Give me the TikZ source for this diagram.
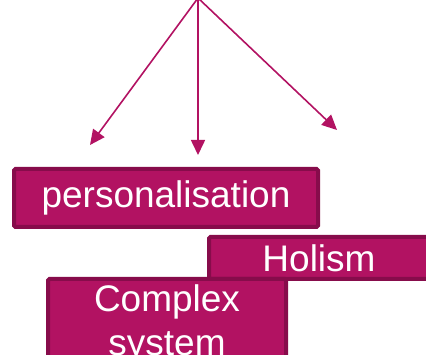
\documentclass[tikz,border=0pt]{standalone}
\usepackage{fontspec}
\setmainfont{Liberation Sans}
\usetikzlibrary{arrows.meta}
\definecolor{berry}{RGB}{178,18,98}
\definecolor{berrydark}{RGB}{135,12,75}
\begin{document}
\begin{tikzpicture}[x=1pt,y=-1pt,
  box/.style={draw=berrydark,fill=berry,line width=4pt,rounded corners=1.5pt,
    text=white,font=\fontsize{37}{44}\selectfont,inner sep=0pt,align=center},
  arr/.style={draw=berry,line width=1.6pt,-{Triangle[length=15pt,width=14pt]}}]
\useasboundingbox (0,0) rectangle (426,355);
\clip (0,0) rectangle (426,355);
\coordinate (top) at (198,-2);
\coordinate (t1) at (90,145);
\coordinate (t2) at (198,155);
\coordinate (t3) at (337,130);
\draw[arr] (top) -- (t1);
\draw[arr] (top) -- (t2);
\draw[arr] (top) -- (t3);
\node[box,minimum width=304pt,minimum height=58pt,anchor=north west] (pers) at (12,167) {personalisation};
\node[box,minimum width=220pt,minimum height=42pt,anchor=north west] (hol) at (207,235) {Holism};
\node[box,minimum width=238pt,inner ysep=6pt,anchor=north west] (cs) at (46,277) {Complex\\system};
\end{tikzpicture}
\end{document}
